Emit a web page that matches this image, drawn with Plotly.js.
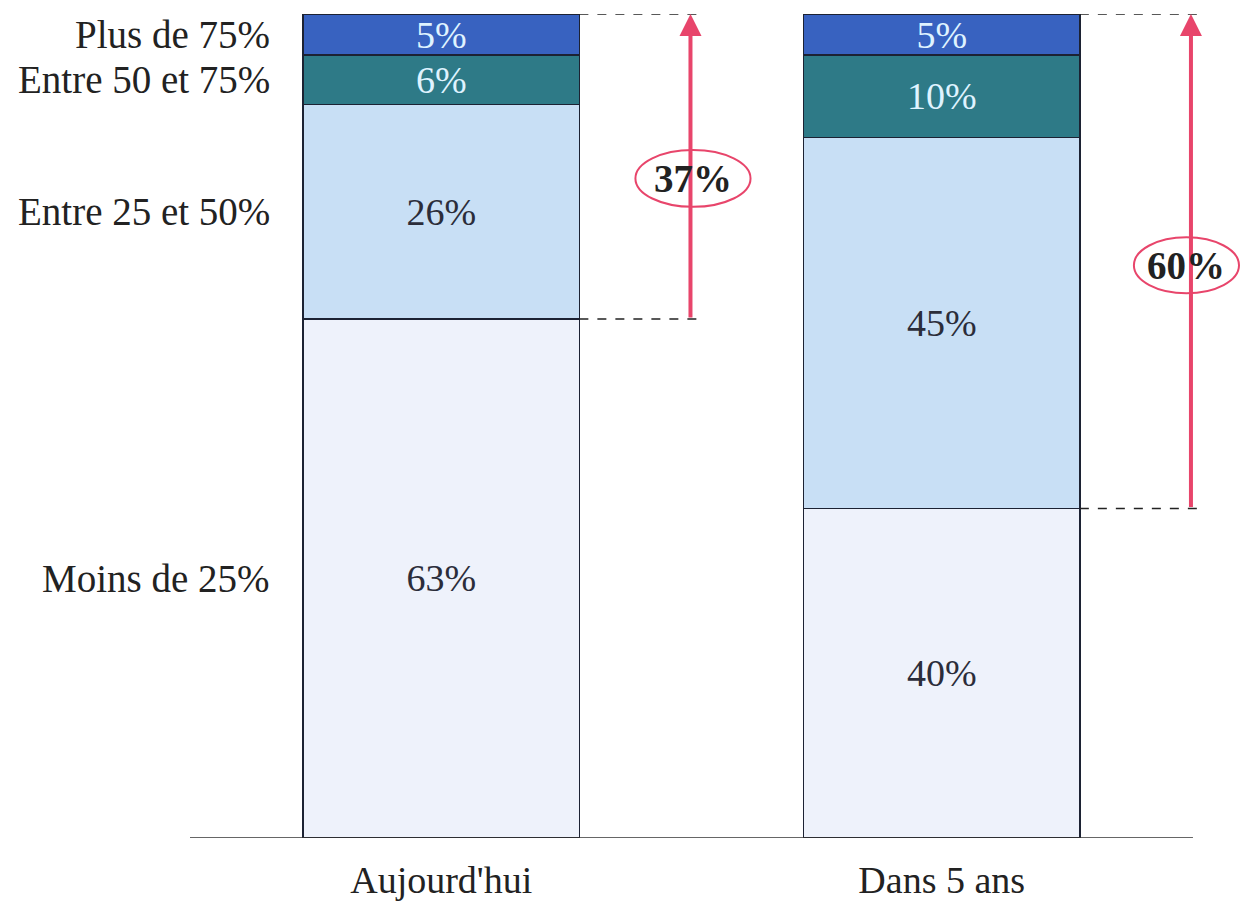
<!DOCTYPE html>
<html>
<head>
<meta charset="utf-8">
<script src="https://cdn.plot.ly/plotly-3.0.1.min.js"></script>
<style>html,body{margin:0;padding:0;background:#fff;}#chart{width:1241px;height:903px;}</style>
</head>
<body>
<div id="chart"></div>
<script>
var categories = ["Aujourd'hui", "Dans 5 ans"];
var seriesNames = ["Moins de 25%", "Entre 25 et 50%", "Entre 50 et 75%", "Plus de 75%"];
var moins25 = [63, 40];
var entre25_50 = [26, 45];
var entre50_75 = [6, 10];
var plus75 = [5, 5];

var series = [moins25, entre25_50, entre50_75, plus75];
var fills = ["#eef2fb", "#c8dff5", "#2e7a87", "#3862c0"];
var textColors = ["#2b2d3a", "#2b2d3a", "#dff3ff", "#dff3ff"];
var FONT = "Liberation Serif, Times New Roman, serif";
var RED = "#e8456b";

var traces = series.map(function (vals, i) {
  return {
    type: "bar",
    name: seriesNames[i],
    x: categories,
    y: vals,
    width: 0.552,
    marker: { color: fills[i], line: { color: "#1c2233", width: 1.5 } },
    text: vals.map(function (v) { return v + "%"; }),
    textposition: "inside",
    insidetextanchor: "middle",
    constraintext: "none",
    textangle: 0,
    textfont: { family: FONT, size: 38, color: textColors[i] },
    hoverinfo: "skip"
  };
});

// category labels next to first bar, at segment centres
var annotations = [];
var cum = 0;
series.forEach(function (vals, i) {
  var c = cum + vals[0] / 2;
  cum += vals[0];
  annotations.push({
    x: -0.338, y: c, xref: "x", yref: "y", xanchor: "right", yanchor: "middle",
    text: seriesNames[i], showarrow: false,
    font: { family: FONT, size: 39, color: "#222" }
  });
});

var shapes = [];
// baseline
shapes.push({ type: "line", xref: "x", yref: "y", x0: -0.502, x1: 1.502, y0: 0, y1: 0,
  line: { color: "#333", width: 1.5 } });

var brackets = [
  { i: 0, xArrow: 0.498, xEnd: 0.51, ell: [0.388, 0.618, 76.6, 83.5] },
  { i: 1, xArrow: 1.498, xEnd: 1.51, ell: [1.384, 1.594, 66.1, 72.9] }
];
brackets.forEach(function (b) {
  var base = moins25[b.i];
  var total = entre25_50[b.i] + entre50_75[b.i] + plus75[b.i];
  var top = base + total;
  var barEdge = b.i + 0.552 / 2;
  [top, base].forEach(function (yy) {
    shapes.push({ type: "line", xref: "x", yref: "y", x0: barEdge, x1: b.xEnd, y0: yy, y1: yy,
      line: { color: "#222", width: 1.5, dash: "dash" } });
  });
  annotations.push({
    x: b.xArrow, y: top, ax: b.xArrow, ay: base, xref: "x", yref: "y", axref: "x", ayref: "y",
    text: "", showarrow: true, arrowhead: 2, arrowsize: 1.1, arrowwidth: 4, arrowcolor: RED
  });
  shapes.push({ type: "circle", xref: "x", yref: "y", x0: b.ell[0], x1: b.ell[1], y0: b.ell[2], y1: b.ell[3],
    fillcolor: "#ffffff", line: { color: RED, width: 2 }, layer: "above" });
  annotations.push({
    x: (b.ell[0] + b.ell[1]) / 2, y: (b.ell[2] + b.ell[3]) / 2, xref: "x", yref: "y",
    text: "<b>" + total + "%</b>", showarrow: false,
    font: { family: FONT, size: 39, color: "#222" }
  });
});

var layout = {
  width: 1241, height: 903,
  margin: { l: 190, r: 0, t: 14, b: 65 },
  paper_bgcolor: "#ffffff", plot_bgcolor: "#ffffff",
  barmode: "stack",
  showlegend: false,
  xaxis: {
    type: "category", range: [-0.502, 1.598], showgrid: false, zeroline: false, showline: false,
    ticks: "", ticklabelstandoff: 16,
    tickfont: { family: FONT, size: 38, color: "#222" }
  },
  yaxis: { range: [0, 100], showgrid: false, zeroline: false, showline: false, showticklabels: false, ticks: "" },
  shapes: shapes,
  annotations: annotations
};

Plotly.newPlot("chart", traces, layout, { displayModeBar: false, staticPlot: true });
</script>
</body>
</html>
